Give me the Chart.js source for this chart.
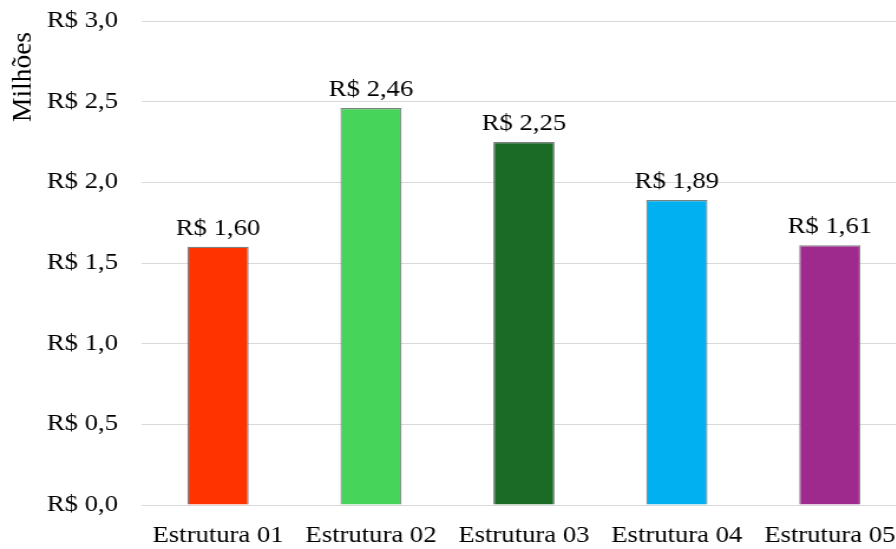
<!DOCTYPE html>
<html>
<head>
<meta charset="utf-8">
<script src="https://cdn.jsdelivr.net/npm/chart.js@4"></script>
<style>
    html, body { margin: 0; padding: 0; background: #fff; overflow: hidden; }
    /* chart is drawn narrow and widened, so the serif text comes out broad */
    #wrap { width: 768px; height: 549px; transform: scaleX(1.18); transform-origin: 0 0; }
</style>
</head>
<body>
<div id="wrap"><canvas id="chartCusto"></canvas></div>
<script>
const estruturas = ['Estrutura 01', 'Estrutura 02', 'Estrutura 03', 'Estrutura 04', 'Estrutura 05'];
const custoMilhoes = [1.60, 2.46, 2.25, 1.89, 1.61];
const coresBarras = ['#FF3300', '#46D45B', '#1B6B27', '#00B0F0', '#9E2A8E'];
const tituloEixo = 'Milhões';
const stretchX = 1.18;

// Brazilian currency format with comma decimal
function formatReal(v, casas) {
    return 'R$ ' + v.toFixed(casas).replace('.', ',');
}

// Value labels over each bar + rotated axis title
const rotulosPlugin = {
    id: 'rotulos',
    afterDatasetsDraw(chart) {
        const ctx = chart.ctx;
        const meta = chart.getDatasetMeta(0);
        ctx.save();
        ctx.font = '22.6px "Liberation Serif", "Times New Roman", serif';
        ctx.fillStyle = '#000';
        ctx.textAlign = 'center';
        ctx.textBaseline = 'alphabetic';
        meta.data.forEach((bar, i) => {
            ctx.fillText(formatReal(custoMilhoes[i], 2), bar.x, bar.y - 12);
        });
        ctx.restore();

        // axis title, counter-scaled so it is not widened
        ctx.save();
        ctx.translate(20, 77);
        ctx.scale(1 / stretchX, 1);
        ctx.rotate(-Math.PI / 2);
        ctx.font = '27.5px "Liberation Serif", "Times New Roman", serif';
        ctx.fillStyle = '#000';
        ctx.textAlign = 'center';
        ctx.textBaseline = 'middle';
        ctx.fillText(tituloEixo, 0, 0);
        ctx.restore();
    }
};

const fonteEixo = { family: '"Liberation Serif", "Times New Roman", serif', size: 22.6 };

new Chart(document.getElementById('chartCusto'), {
    type: 'bar',
    data: {
        labels: estruturas,
        datasets: [{
            data: custoMilhoes,
            backgroundColor: coresBarras,
            borderColor: '#7F7F7F',
            borderWidth: 1.2,
            barPercentage: 0.4,
            categoryPercentage: 1.0,
        }],
    },
    options: {
        responsive: true,
        maintainAspectRatio: false,
        animation: false,
        layout: { padding: { top: 21, right: 0, bottom: 0, left: 0 } },
        plugins: {
            legend: { display: false },
            tooltip: { enabled: false },
        },
        scales: {
            x: {
                grid: { display: false, drawTicks: false },
                border: { display: false },
                ticks: { color: '#000', font: fonteEixo, padding: 18, maxRotation: 0 },
                afterFit(axis) {
                    axis.height = 44;
                    axis.paddingLeft = 0;
                    axis.paddingRight = 0;
                },
            },
            y: {
                min: 0,
                max: 3,
                grid: { color: '#D9D9D9', lineWidth: 1, drawTicks: false },
                border: { display: false },
                ticks: {
                    stepSize: 0.5,
                    color: '#000',
                    font: fonteEixo,
                    padding: 20,
                    callback: (v) => formatReal(v, 1),
                },
                afterFit(axis) {
                    axis.width = 120;
                    axis.paddingTop = 0;
                    axis.paddingBottom = 0;
                },
            },
        },
    },
    plugins: [rotulosPlugin],
});
</script>
</body>
</html>
